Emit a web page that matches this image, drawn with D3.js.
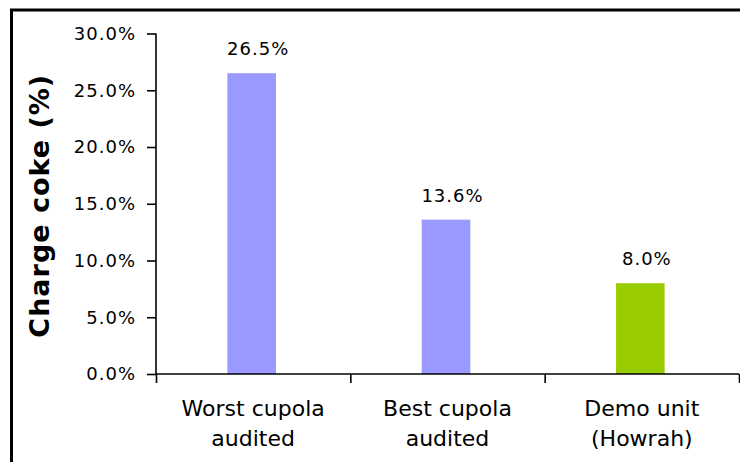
<!DOCTYPE html>
<html>
<head>
<meta charset="utf-8">
<script src="https://cdn.jsdelivr.net/npm/d3@7/dist/d3.min.js"></script>
<style>
  body { margin: 0; background: #fff; }
  svg { display: block; }
  text { font-family: "DejaVu Sans", sans-serif; fill: #000; }
</style>
</head>
<body>
<div class="graphic"></div>
<script>
var categories = [['Worst cupola', 'audited'], ['Best cupola', 'audited'], ['Demo unit', '(Howrah)']];
var values = [0.265, 0.136, 0.080];
var barColors = ['#9999ff', '#9999ff', '#99cc00'];
var yTicks = [0, 0.05, 0.10, 0.15, 0.20, 0.25, 0.30];
var yTitle = 'Charge coke (%)';

var width = 740;
var height = 462;
var margin = {left: 156, right: 1, top: 33.5, bottom: 88};

var svg = d3.select('.graphic').append('svg')
	.attr('width', width)
	.attr('height', height)
	.attr('viewBox', `0 0 ${width} ${height}`);

// frame, only the top and left edges are visible
svg.append('rect')
	.attr('x', 11.5).attr('y', 10)
	.attr('width', 900).attr('height', 700)
	.attr('fill', 'none')
	.attr('stroke', '#000')
	.attr('stroke-width', 3);

var x = d3.scaleBand()
	.domain(d3.range(categories.length))
	.range([margin.left, width - margin.right])
	.paddingInner(0.75)
	.paddingOuter(0.375);

var y = d3.scaleLinear()
	.domain([0, 0.30])
	.range([height - margin.bottom, margin.top]);

var fmt = d3.format('.1%');

svg.selectAll('rect.bar')
	.data(values)
	.enter()
	.append('rect')
	.attr('class', 'bar')
	.attr('x', function(d, i) { return x(i) - 1.5; })
	.attr('y', function(d) { return y(d); })
	.attr('width', x.bandwidth())
	.attr('height', function(d) { return y(0) - y(d); })
	.attr('fill', function(d, i) { return barColors[i]; });

svg.selectAll('text.val')
	.data(values)
	.enter()
	.append('text')
	.attr('class', 'val')
	.attr('x', function(d, i) { return x(i) + x.bandwidth() / 2 + 5; })
	.attr('y', function(d) { return y(d) - 18; })
	.attr('text-anchor', 'middle')
	.style('font-size', '18px')
	.style('letter-spacing', '1px')
	.text(function(d) { return fmt(d); });

// y axis
var yAxis = svg.append('g')
	.attr('transform', `translate(${margin.left},0)`)
	.call(d3.axisLeft(y).tickValues(yTicks).tickFormat(fmt).tickSize(9).tickPadding(11));
yAxis.select('.domain').attr('stroke-width', 1.6).attr('d', `M0,${y(0.30)}V${y(0)}`);
yAxis.selectAll('.tick line').attr('stroke-width', 1.6);
yAxis.selectAll('.tick text')
	.style('font-size', '18px')
	.style('letter-spacing', '1px')
	.style('font-family', '"DejaVu Sans", sans-serif')
	.attr('fill', '#000');

// x axis: ticks on category boundaries
var xEdge = d3.scaleLinear()
	.domain([0, categories.length])
	.range(x.range());
var xAxis = svg.append('g')
	.attr('transform', `translate(0,${y(0)})`)
	.call(d3.axisBottom(xEdge).tickValues(d3.range(categories.length + 1)).tickFormat('').tickSize(9));
xAxis.select('.domain').attr('stroke-width', 1.6).attr('d', `M${x.range()[0]},0H${x.range()[1]}`);
xAxis.selectAll('.tick line').attr('stroke-width', 1.6);

var xLabels = svg.selectAll('text.cat')
	.data(categories)
	.enter()
	.append('text')
	.attr('class', 'cat')
	.attr('text-anchor', 'middle')
	.style('font-size', '22px')
	.attr('transform', function(d, i) { return `translate(${x(i) + x.bandwidth() / 2},416)`; });
xLabels.selectAll('tspan')
	.data(function(d) { return d; })
	.enter()
	.append('tspan')
	.attr('x', 0)
	.attr('y', function(d, i) { return i * 30; })
	.text(function(d) { return d; });

svg.append('text')
	.attr('transform', `translate(49,${(y(0) + y(0.30)) / 2 + 2}) rotate(-90)`)
	.attr('text-anchor', 'middle')
	.style('font-size', '27px')
	.style('font-weight', 'bold')
	.style('letter-spacing', '1px')
	.text(yTitle);
</script>
</body>
</html>
